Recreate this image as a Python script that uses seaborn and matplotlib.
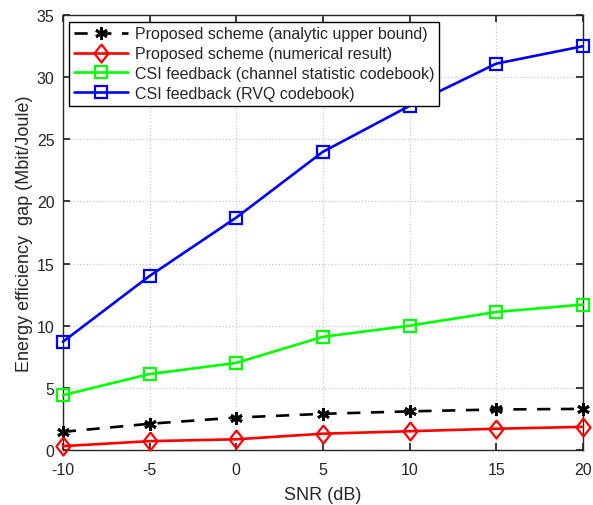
"""
Energy efficiency gap vs SNR
"""
import numpy as np
import pandas as pd
import matplotlib
matplotlib.use("Agg")
import matplotlib.pyplot as plt
import seaborn as sns

snr = [-10, -5, 0, 5, 10, 15, 20]
upper_bound = [1.45, 2.1, 2.6, 2.9, 3.1, 3.25, 3.3]
numerical = [0.3, 0.7, 0.85, 1.3, 1.5, 1.7, 1.85]
csi_stat = [4.4, 6.1, 7.0, 9.1, 10.0, 11.1, 11.7]
csi_rvq = [8.7, 14.0, 18.7, 24.0, 27.7, 31.1, 32.5]

labels = [
    "Proposed scheme (analytic upper bound)",
    "Proposed scheme (numerical result)",
    "CSI feedback (channel statistic codebook)",
    "CSI feedback (RVQ codebook)",
]

sns.set_theme(style="ticks")
plt.rcParams["font.family"] = ["Liberation Sans", "DejaVu Sans"]
plt.rcParams["axes.unicode_minus"] = False

df = pd.DataFrame({
    "snr": snr * 4,
    "gap": upper_bound + numerical + csi_stat + csi_rvq,
    "scheme": np.repeat(labels, len(snr)),
})

fig = plt.figure(figsize=(5.93, 5.06), dpi=100)
ax = fig.add_axes([0.106, 0.109, 0.877, 0.859])

# matlab-like diamond, a bit wider than mpl's "d"
diamond = [(0, 1), (0.78, 0), (0, -1), (-0.78, 0), (0, 1)]

styles = [
    dict(color="black", marker=(6, 2, 0), ls=(0, (5, 4)), ms=9, mew=2.0,
         mfc="black", mec="black"),
    dict(color="red", marker=diamond, ls="-", ms=13, mew=1.6, mfc="none", mec="red"),
    dict(color="#00ff00", marker="s", ls="-", ms=9, mew=1.6, mfc="none", mec="#00ff00"),
    dict(color="blue", marker="s", ls="-", ms=9, mew=1.6, mfc="none", mec="blue"),
]

for lab, st in zip(labels, styles):
    sub = df[df["scheme"] == lab]
    sns.lineplot(data=sub, x="snr", y="gap", ax=ax, label=lab, lw=1.9,
                 clip_on=False, zorder=3, **st)

ax.set_xlim(-10, 20)
ax.set_ylim(0, 35)
ax.set_xticks(snr)
ax.set_yticks(np.arange(0, 36, 5))
ax.grid(True, ls=":", color="#c8c8c8", lw=0.9)
ax.tick_params(direction="in", top=True, right=True, labelsize=11.5,
               length=5, colors="#262626", labelcolor="#262626")
ax.tick_params(axis="x", pad=9)
ax.tick_params(axis="y", pad=6)
for sp in ax.spines.values():
    sp.set_linewidth(1.0)
    sp.set_color("#262626")
ax.set_xlabel("SNR (dB)", fontsize=13, color="#262626", labelpad=6)
ax.set_ylabel("Energy efficiency  gap (Mbit/Joule)", fontsize=13,
              color="#262626", labelpad=3)

leg = ax.legend(loc="upper left", fontsize=11.5, frameon=True, fancybox=False,
                edgecolor="black", framealpha=1, borderaxespad=0.4,
                handlelength=3.4, labelspacing=0.3, borderpad=0.3,
                handletextpad=0.4)
leg.get_frame().set_linewidth(1.0)

fig.savefig("out.png", dpi=100)
